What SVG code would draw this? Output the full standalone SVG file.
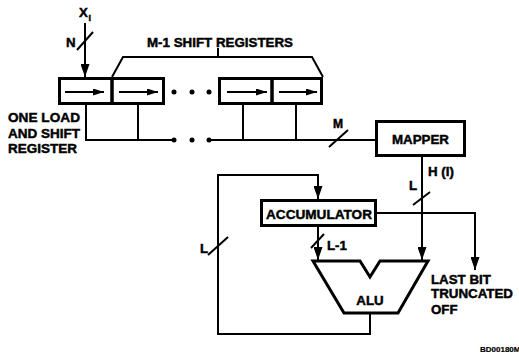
<svg xmlns="http://www.w3.org/2000/svg" width="519" height="354" viewBox="0 0 519 354">
<defs>
<style>
.box{fill:none;stroke:#000;stroke-width:3}
.ln{fill:none;stroke:#000;stroke-width:2}
.t{font-family:"Liberation Sans",Arial,sans-serif;font-weight:bold;font-size:13.3px;fill:#000;stroke:#000;stroke-width:0.45}
.dot{fill:#000}
</style>
<marker id="ah" markerUnits="userSpaceOnUse" markerWidth="13" markerHeight="9" refX="13" refY="4.5" orient="auto">
<path d="M0,0 L13,4.5 L0,9 z" fill="#000"/>
</marker>
<marker id="ahs" markerUnits="userSpaceOnUse" markerWidth="11" markerHeight="7" refX="11" refY="3.5" orient="auto">
<path d="M0,0 L11,3.5 L0,7 z" fill="#000"/>
</marker>
</defs>
<rect width="519" height="354" fill="#fff"/>

<g id="input-label">
<text class="t" x="79" y="17">X</text>
<text class="t" x="88.5" y="21" style="font-size:9px">I</text>
<text class="t" x="66" y="47">N</text>
</g>

<g id="reg1">
<rect class="box" x="59.5" y="78.5" width="52.5" height="25"/>
<line class="ln" x1="65" y1="92" x2="104" y2="92" marker-end="url(#ahs)"/>
</g>
<g id="reg2">
<rect class="box" x="112" y="78.5" width="51.5" height="25"/>
<line class="ln" x1="119" y1="92" x2="158" y2="92" marker-end="url(#ahs)"/>
</g>
<g id="reg3">
<rect class="box" x="219.5" y="78.5" width="52.5" height="25"/>
<line class="ln" x1="227" y1="92" x2="267" y2="92" marker-end="url(#ahs)"/>
</g>
<g id="reg4">
<rect class="box" x="272" y="78.5" width="49.5" height="25"/>
<line class="ln" x1="279" y1="92" x2="317" y2="92" marker-end="url(#ahs)"/>
</g>
<g id="reg-dots">
<circle class="dot" cx="174" cy="92" r="2.5"/>
<circle class="dot" cx="192" cy="92" r="2.5"/>
<circle class="dot" cx="209" cy="92" r="2.5"/>
</g>

<g id="shift-bracket">
<path class="ln" d="M112,77 L123,57 L312,57 L323,77"/>
<line class="ln" x1="218" y1="57" x2="218" y2="48"/>
<text class="t" x="147" y="46.5" textLength="146" lengthAdjust="spacingAndGlyphs">M-1 SHIFT REGISTERS</text>
</g>

<g id="one-load-label">
<text class="t" x="8" y="122" textLength="72" lengthAdjust="spacingAndGlyphs">ONE LOAD</text>
<text class="t" x="8" y="137.5" textLength="72" lengthAdjust="spacingAndGlyphs">AND SHIFT</text>
<text class="t" x="8" y="153" textLength="69" lengthAdjust="spacingAndGlyphs">REGISTER</text>
</g>

<g id="mapper">
<rect class="box" x="376.5" y="121.5" width="88" height="34"/>
<text class="t" x="420.5" y="144" text-anchor="middle">MAPPER</text>
</g>

<g id="accumulator">
<rect class="box" x="261.5" y="200.5" width="114" height="25"/>
<text class="t" x="319" y="219" text-anchor="middle" textLength="106" lengthAdjust="spacingAndGlyphs">ACCUMULATOR</text>
</g>

<g id="alu">
<path class="box" d="M313,261 L360,261 L370,277 L380,261 L428,261 L398,313 L344,313 Z" stroke-linejoin="miter"/>
<text class="t" x="370" y="305" text-anchor="middle">ALU</text>
</g>

<g id="connectors">
<line class="ln" x1="85" y1="23" x2="85" y2="77" marker-end="url(#ah)"/>
<line class="ln" x1="77" y1="50" x2="93" y2="32"/>
<path class="ln" d="M86,104 L86,140 L174,140"/>
<line class="ln" x1="138" y1="104" x2="138" y2="140"/>
<circle class="dot" cx="174" cy="140" r="2.5"/>
<circle class="dot" cx="192" cy="140" r="2.5"/>
<circle class="dot" cx="209" cy="140" r="2.5"/>
<line class="ln" x1="209" y1="140" x2="375" y2="140"/>
<line class="ln" x1="243" y1="104" x2="243" y2="140"/>
<line class="ln" x1="296" y1="104" x2="296" y2="140"/>
<line class="ln" x1="329" y1="147" x2="348" y2="130"/>
<line class="ln" x1="422" y1="157" x2="422" y2="260" marker-end="url(#ah)"/>
<line class="ln" x1="413" y1="205" x2="430" y2="192"/>
<path class="ln" d="M377,213 L475,213 L475,270" marker-end="url(#ah)"/>
<line class="ln" x1="318" y1="227" x2="318" y2="260" marker-end="url(#ah)"/>
<line class="ln" x1="311" y1="248" x2="324" y2="234"/>
<path class="ln" d="M370,314 L370,334 L218,334 L218,175 L318,175 L318,199" marker-end="url(#ah)"/>
<line class="ln" x1="208" y1="255" x2="228" y2="237"/>
</g>

<g id="connector-labels">
<text class="t" x="333" y="128" style="font-size:12px">M</text>
<text class="t" x="428" y="176">H (I)</text>
<text class="t" x="409" y="190">L</text>
<text class="t" x="327" y="250">L-1</text>
<text class="t" x="200" y="253">L</text>
</g>

<g id="truncated-label">
<text class="t" x="431" y="284">LAST BIT</text>
<text class="t" x="431" y="298" textLength="82" lengthAdjust="spacingAndGlyphs">TRUNCATED</text>
<text class="t" x="431" y="314">OFF</text>
</g>

<text class="t" x="480" y="352" style="font-size:8px;stroke-width:0.2">BD00180M</text>
</svg>
